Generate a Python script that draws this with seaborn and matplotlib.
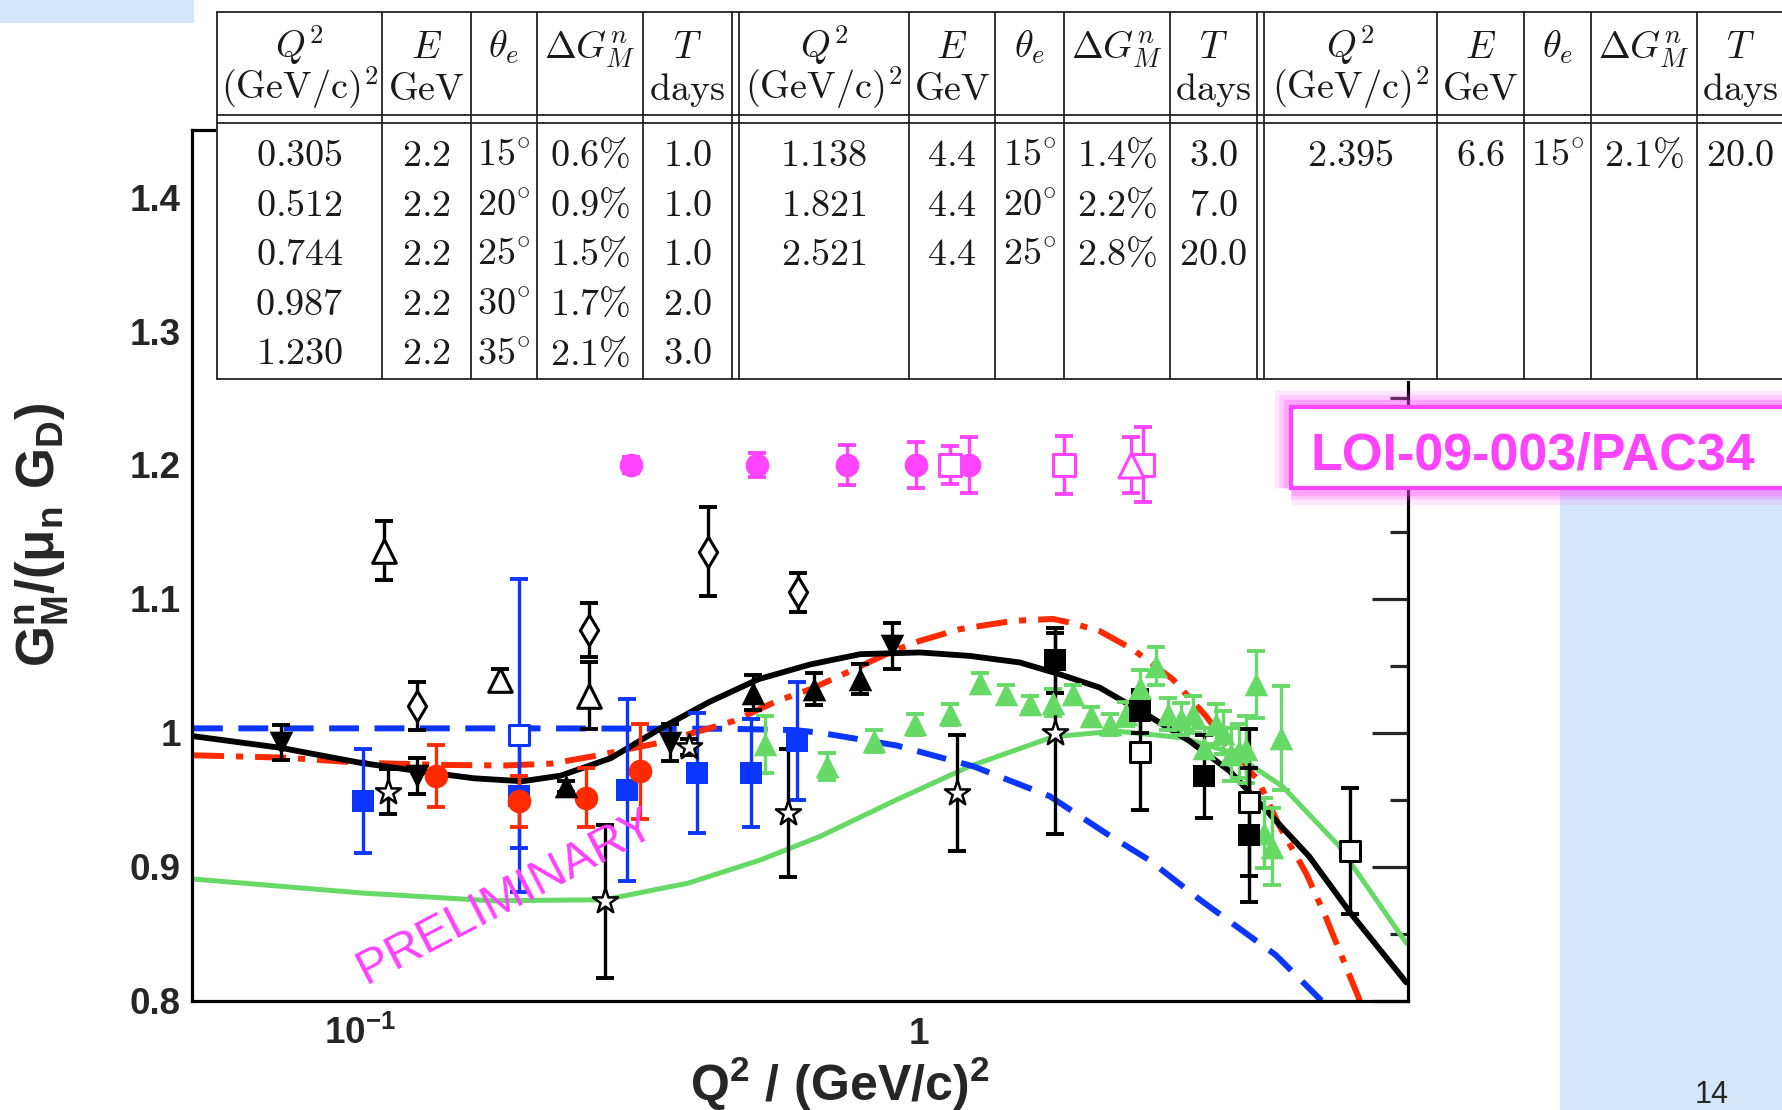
import matplotlib
matplotlib.use("Agg")
import matplotlib.pyplot as plt
from matplotlib.lines import Line2D
from matplotlib.patches import Rectangle
from matplotlib.ticker import FixedLocator, NullFormatter
import seaborn as sns

# ---------------- proposal table (LOI-09-003) ----------------
tab_E = [2.2, 4.4, 6.6]
tab_q2 = [[0.305, 0.512, 0.744, 0.987, 1.230], [1.138, 1.821, 2.521], [2.395]]
tab_theta = [[15, 20, 25, 30, 35], [15, 20, 25], [15]]
tab_dgm = [[0.6, 0.9, 1.5, 1.7, 2.1], [1.4, 2.2, 2.8], [2.1]]
tab_days = [[1.0, 1.0, 1.0, 2.0, 3.0], [3.0, 7.0, 20.0], [20.0]]
proj_level = 1.2

# ---------------- model curves ----------------
blk_q2 = [0.0502, 0.072, 0.1, 0.1274, 0.16, 0.195, 0.2285, 0.2807, 0.3439, 0.4213, 0.516,
          0.6383, 0.785, 1.004, 1.233, 1.515, 1.785, 2.104, 2.58, 3.05, 3.6, 4.12, 4.99,
          5.92, 7.45]
blk_g = [0.9975, 0.9888, 0.9776, 0.9713, 0.966, 0.9638, 0.968, 0.981, 1.003, 1.023, 1.040,
         1.051, 1.0587, 1.060, 1.0574, 1.0525, 1.0437, 1.0338, 1.0125, 0.9938, 0.9713, 0.945,
         0.9077, 0.8653, 0.8135]

red_q2 = [0.0502, 0.0735, 0.1, 0.14, 0.1823, 0.22, 0.262, 0.3439, 0.466, 0.557, 0.639, 0.743,
          0.8996, 1.004, 1.184, 1.474, 1.735, 1.86, 2.104, 2.411, 2.844, 3.262, 3.69, 4.04,
          4.42, 4.93, 5.34, 5.62, 6.15]
red_g = [0.9832, 0.9814, 0.9776, 0.976, 0.9756, 0.977, 0.9826, 0.9926, 1.0088, 1.0237, 1.0325,
         1.045, 1.0612, 1.0687, 1.0774, 1.0836, 1.085, 1.0824, 1.076, 1.0624, 1.040, 1.0125,
         0.9826, 0.965, 0.930, 0.895, 0.8628, 0.840, 0.800]

blue_q2 = [0.0502, 0.2, 0.45, 0.6, 0.666, 0.912, 1.25, 1.714, 2.16, 2.58, 3.19, 4.35, 5.25]
blue_g = [1.0033, 1.0033, 1.003, 1.002, 1.0, 0.9905, 0.975, 0.9526, 0.925, 0.905, 0.875, 0.834,
          0.800]

grn_q2 = [0.0502, 0.1011, 0.171, 0.2738, 0.3868, 0.52, 0.666, 0.912, 1.233, 1.737, 2.25, 2.96,
          3.64, 4.47, 5.63, 7.45]
grn_g = [0.8908, 0.8803, 0.8746, 0.8753, 0.8878, 0.905, 0.9227, 0.950, 0.975, 0.997, 1.0013,
         0.9963, 0.985, 0.960, 0.916, 0.8429]

# ---------------- world data ----------------
bdt_q2 = [0.0721, 0.1265, 0.359, 0.894]          # black down triangles
bdt_g = [0.9926, 0.9677, 0.9926, 1.0649]
bdt_e = [0.013, 0.0135, 0.014, 0.017]

but_q2 = [0.2333, 0.5045, 0.6475, 0.7846]        # black up triangles
but_g = [0.960, 1.030, 1.0325, 1.040]
but_e = [0.004, 0.013, 0.012, 0.011]

bsq_q2 = [1.749, 2.488, 3.241, 3.9]              # black squares
bsq_g = [1.054, 1.016, 0.9676, 0.924]
bsq_e = [0.024, 0.016, 0.031, 0.05]

bos_q2 = [2.488, 3.9, 5.91]                      # black open squares
bos_g = [0.986, 0.948, 0.9115]
bos_e = [0.044, 0.055, 0.047]

bdm_q2 = [0.1265, 0.2569, 0.4194, 0.6066]        # open diamonds
bdm_g = [1.020, 1.0769, 1.1353, 1.1049]
bdm_e = [0.018, 0.02, 0.0333, 0.0146]

bot_q2 = [0.1101, 0.1781, 0.2569]                # open triangles
bot_g = [1.136, 1.0395, 1.0275]
bot_e = [0.022, 0.008, 0.025]

bst_q2 = [0.1121, 0.2738, 0.3873, 0.584, 1.168, 1.749]   # open stars
bst_g = [0.956, 0.8741, 0.9896, 0.940, 0.955, 0.9996]
bst_e = [0.017, 0.057, 0.006, 0.048, 0.043, 0.075]

blsq_q2 = [0.101, 0.192, 0.3006, 0.401, 0.5006, 0.605]   # blue squares
blsq_g = [0.949, 0.953, 0.9576, 0.970, 0.970, 0.9938]
blsq_e = [0.039, 0.039, 0.068, 0.045, 0.04, 0.044]

blos_q2 = [0.192]                                # blue open square
blos_g = [0.998]
blos_e = [0.117]

red_pt_q2 = [0.1366, 0.192, 0.2535, 0.3167]      # red circles
red_pt_g = [0.9677, 0.949, 0.9515, 0.9713]
red_pt_e = [0.023, 0.019, 0.022, 0.0355]

gtr_q2 = [0.531, 0.684, 0.829, 0.984, 1.136, 1.285, 1.434, 1.578, 1.737, 1.886, 2.034, 2.193,
          2.349, 2.481, 2.650, 2.787, 2.945, 3.089, 3.241, 3.401, 3.5, 3.618, 3.741, 3.85,
          4.009, 4.149, 4.29, 4.443]
gtr_g = [0.9913, 0.975, 0.9938, 1.0063, 1.0138, 1.0375, 1.0287, 1.0212, 1.0225, 1.0287, 1.0125,
         1.0063, 1.0138, 1.0338, 1.050, 1.0138, 1.010, 1.0138, 0.9889, 1.0063, 1.0, 0.9838,
         0.9863, 0.9876, 1.0362, 0.925, 0.915, 0.9963]
gtr_e = [0.021, 0.01, 0.008, 0.008, 0.008, 0.007, 0.007, 0.006, 0.01, 0.007, 0.007, 0.008,
         0.009, 0.013, 0.014, 0.012, 0.012, 0.014, 0.015, 0.015, 0.016, 0.02, 0.02, 0.025,
         0.025, 0.026, 0.029, 0.039]

yticks = [0.8, 0.9, 1.0, 1.1, 1.2, 1.3, 1.4]
ytick_labels = ["0.8", "0.9", "1", "1.1", "1.2", "1.3", "1.4"]

BLK, BLUE, RED, GRN, MAG = "black", "#0b36ff", "#ff2a00", "#66d966", "#ff44ff"
W, H = 1783, 1110

sns.set_style("white")
plt.rcParams["font.family"] = ["Liberation Sans", "DejaVu Sans"]
plt.rcParams["mathtext.fontset"] = "custom"
for k in ["rm", "it", "bf", "sf"]:
    plt.rcParams["mathtext." + k] = "Liberation Sans:bold"


def fx(x):
    return x / W


def fy(y):
    return 1 - y / H


fig = plt.figure(figsize=(17.83, 11.10), dpi=100)
ax = fig.add_axes([fx(192), fy(1000.6), fx(1408) - fx(192), fy(130.2) - fy(1000.6)])
ax.set_xscale("log")
ax.set_xlim(0.05, 7.5)
ax.set_ylim(0.8, 1.45)


def curve(q2, g, color, lw, ls):
    sns.lineplot(x=q2, y=g, ax=ax, color=color, lw=lw, estimator=None, sort=False, zorder=2)
    ax.lines[-1].set_linestyle(ls)


curve(grn_q2, grn_g, GRN, 3.6, "-")
curve(blue_q2, blue_g, BLUE, 4.3, (0, (5.0, 2.6)))
curve(red_q2, red_g, RED, 4.3, (0, (5.2, 2.0, 1.2, 2.0)))
curve(blk_q2, blk_g, BLK, 4.2, "-")


def pts(q2, g, err, marker, color, face, ms, ew=0.0):
    ax.errorbar(q2, g, yerr=err, fmt="none", ecolor=color, elinewidth=2.4,
                capsize=6.5, capthick=2.8, zorder=3)
    sns.scatterplot(x=q2, y=g, ax=ax, marker=marker, s=ms ** 2, color=face,
                    edgecolor=color, linewidth=ew, zorder=4, legend=False)


pts(gtr_q2, gtr_g, gtr_e, "^", GRN, GRN, 17)
pts(blsq_q2, blsq_g, blsq_e, "s", BLUE, BLUE, 15.5)
pts(blos_q2, blos_g, blos_e, "s", BLUE, "white", 15, 2.2)
pts(red_pt_q2, red_pt_g, red_pt_e, "o", RED, RED, 17)
pts(bdt_q2, bdt_g, bdt_e, "v", BLK, BLK, 17)
pts(but_q2, but_g, but_e, "^", BLK, BLK, 17)
pts(bsq_q2, bsq_g, bsq_e, "s", BLK, BLK, 15.5)
pts(bos_q2, bos_g, bos_e, "s", BLK, "white", 15, 2.2)
pts(bdm_q2, bdm_g, bdm_e, "d", BLK, "white", 15.5, 2.2)
pts(bot_q2, bot_g, bot_e, "^", BLK, "white", 17, 2.2)
pts(bst_q2, bst_g, bst_e, "*", BLK, "white", 19, 1.8)

# projected points from the table
pts(tab_q2[0], [proj_level] * 5, [d / 100 for d in tab_dgm[0]], "o", MAG, MAG, 17)
pts(tab_q2[1], [proj_level] * 3, [d / 100 for d in tab_dgm[1]], "s", MAG, "white", 16, 2.2)
pts(tab_q2[2], [proj_level] * 1, [d / 100 for d in tab_dgm[2]], "^", MAG, "white", 18, 2.2)

# axes styling (ROOT-like)
for s in ax.spines.values():
    s.set_linewidth(2.3)
    s.set_color("black")
ax.set_yticks(yticks, labels=ytick_labels)
ax.yaxis.set_minor_locator(FixedLocator([0.85, 0.95, 1.05, 1.15, 1.25, 1.35]))
ax.set_xticks([0.1, 1.0], labels=[r"$\mathbf{10^{-1}}$", r"$\mathbf{1}$"])
ax.xaxis.set_minor_locator(FixedLocator([0.06, 0.07, 0.08, 0.09, 0.2, 0.3, 0.4, 0.5, 0.6,
                                         0.7, 0.8, 0.9, 2, 3, 4, 5, 6, 7]))
ax.xaxis.set_minor_formatter(NullFormatter())
ax.tick_params(axis="y", which="major", direction="in", length=26, width=2.3, right=True,
               labelsize=26.5, pad=8)
ax.tick_params(axis="y", which="minor", direction="in", length=13, width=2.3, right=True)
ax.tick_params(axis="x", which="major", direction="in", length=19.5, width=2.3,
               labelsize=26.5, pad=31)
ax.tick_params(axis="x", which="minor", direction="in", length=10, width=2.3)
for lbl in ax.get_yticklabels():
    lbl.set_fontweight("bold")
for t in ax.xaxis.get_major_ticks():
    t.label1.set_verticalalignment("baseline")
ax.set_xlabel("")
ax.set_ylabel("")

fig.text(fx(42), fy(535), r"$\mathbf{G^{n}_{M}/(\mu_{n}\ G_{D})}$", rotation=90,
         ha="center", va="center", fontsize=38)
fig.text(fx(690), fy(1101), r"$\mathbf{Q^{2}\ /\ (GeV/c)^{2}}$", ha="left",
         va="baseline", fontsize=36)
fig.text(fx(506), fy(897), "PRELIMINARY", rotation=27.5, rotation_mode="anchor",
         ha="center", va="center", fontsize=35, color="#ff40ff", zorder=6)

# slide decorations
fig.add_artist(Rectangle((0, fy(23)), fx(194), fy(0) - fy(23), transform=fig.transFigure,
                         facecolor="#d4e7fa", edgecolor="none", zorder=5))
fig.add_artist(Rectangle((fx(1560), 0), fx(1783) - fx(1560) + 0.01, fy(430),
                         transform=fig.transFigure, facecolor="#d4e7fa", edgecolor="none",
                         zorder=5))
fig.text(fx(1712), fy(1103), "14", ha="center", va="baseline", fontsize=22, zorder=6)

# LOI box with glow
box = (fx(1291), fy(488), fx(1800) - fx(1291), fy(407) - fy(488))
for lw, a in [(24, 0.12), (17, 0.18), (11, 0.28)]:
    fig.add_artist(Rectangle(box[:2], box[2], box[3], transform=fig.transFigure,
                             facecolor="none", edgecolor=MAG, alpha=a, lw=lw, zorder=8))
fig.add_artist(Rectangle(box[:2], box[2], box[3], transform=fig.transFigure,
                         facecolor="white", edgecolor=MAG, lw=3, zorder=9))
fig.text(fx(1311), fy(469), "LOI-09-003/PAC34", ha="left", va="baseline", fontsize=37.5,
         fontweight="bold", color=MAG, zorder=10)

# ---------------- table overlay ----------------
fig.add_artist(Rectangle((fx(216), fy(381)), fx(1783) - fx(216) + 0.01, fy(0) - fy(381),
                         transform=fig.transFigure, facecolor="white", edgecolor="none",
                         zorder=5))
col_edges = [[217, 382, 471, 537, 643, 732], [739, 909, 995, 1064, 1170, 1257],
             [1264, 1437, 1524, 1591, 1697, 1783]]
vlines = sorted(set(x for grp in col_edges for x in grp if x < 1783))
for x in vlines:
    fig.add_artist(Line2D([fx(x)] * 2, [fy(11.5), fy(379)], transform=fig.transFigure,
                          color="#222222", lw=1.3, zorder=6))
for y in [11.5, 115, 123, 379]:
    fig.add_artist(Line2D([fx(217), 1.0], [fy(y)] * 2, transform=fig.transFigure,
                          color="#222222", lw=1.3, zorder=6))

head1 = [r"$Q^2$", r"$E$", r"$\theta_e$", r"$\Delta G^n_M$", r"$T$"]
head2 = [r"$\mathrm{(GeV/c)^2}$", r"$\mathrm{GeV}$", "", "", r"$\mathrm{days}$"]
tkw = dict(ha="center", va="baseline", fontsize=27.5, math_fontfamily="cm", color="#1a1a1a",
           zorder=7)
for g, edges in enumerate(col_edges):
    cx = [(edges[i] + edges[i + 1]) / 2 for i in range(5)]
    for i in range(5):
        fig.text(fx(cx[i]), fy(58), head1[i], **tkw)
        if head2[i]:
            fig.text(fx(cx[i]), fy(100), head2[i], **tkw)
    for r in range(len(tab_q2[g])):
        yb = fy(166 + 49.6 * r)
        row = [f"${tab_q2[g][r]:.3f}$", f"${tab_E[g]:.1f}$", f"${tab_theta[g][r]}^{{\\circ}}$",
               f"${tab_dgm[g][r]:.1f}\\%$", f"${tab_days[g][r]:.1f}$"]
        for i in range(5):
            fig.text(fx(cx[i]), yb, row[i], **tkw)

fig.savefig("out.png", dpi=100)
